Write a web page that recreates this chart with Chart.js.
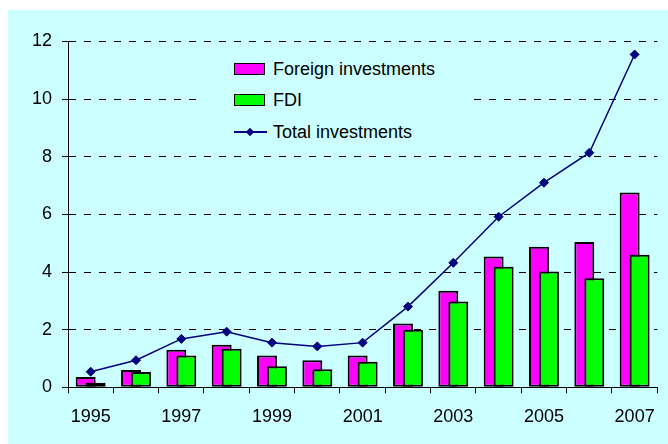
<!DOCTYPE html>
<html>
<head>
<meta charset="utf-8">
<script src="https://cdn.jsdelivr.net/npm/chart.js@4"></script>
<style>
  html, body { margin: 0; padding: 0; background: #ffffff; width: 668px; height: 444px; overflow: hidden; }
  #wrap { position: absolute; left: 8px; top: 10px; width: 660px; height: 434px; background: #CCFFFF; }
  #legend { position: absolute; left: 200px; top: 52px; width: 267px; height: 100px; background: #CCFFFF;
            font-family: "Liberation Sans", Arial, sans-serif; font-size: 18px; color: #000; }
  .item { position: absolute; left: 34px; height: 22px; line-height: 22px; white-space: nowrap; }
  .item .sw { position: absolute; left: 0; top: 5px; width: 29px; height: 10px; border: 1px solid #000; }
  .item .ln { position: absolute; left: 0; top: 10px; width: 33px; height: 1.5px; background: #000080; }
  .item .dm { position: absolute; left: 12.5px; top: 7.5px; width: 6px; height: 6px; background: #000080; transform: rotate(45deg); }
  .item .tx { position: absolute; left: 39px; top: 0; }
</style>
</head>
<body>
<div id="wrap"><canvas id="c"></canvas></div>
<div id="legend">
  <div class="item" style="top:6px"><span class="sw" style="background:#FF00FF"></span><span class="tx">Foreign investments</span></div>
  <div class="item" style="top:37px"><span class="sw" style="background:#00FF00"></span><span class="tx">FDI</span></div>
  <div class="item" style="top:69px"><span class="ln"></span><span class="dm"></span><span class="tx">Total investments</span></div>
</div>
<script>
const years = ['1995','1996','1997','1998','1999','2000','2001','2002','2003','2004','2005','2006','2007'];
const foreignInvestments = [0.36, 0.60, 1.30, 1.48, 1.10, 0.94, 1.10, 2.21, 3.35, 4.54, 4.88, 5.04, 6.76];
const fdi = [0.16, 0.53, 1.10, 1.34, 0.73, 0.63, 0.89, 2.00, 2.98, 4.18, 4.02, 3.78, 4.60];
const totalInvestments = [0.54, 0.94, 1.68, 1.93, 1.55, 1.42, 1.55, 2.80, 4.32, 5.92, 7.10, 8.14, 11.55];
const yTicks = [0, 2, 4, 6, 8, 10, 12];

Chart.defaults.font.family = '"Liberation Sans", Arial, sans-serif';
Chart.defaults.font.size = 18;
Chart.defaults.color = '#000';

const drawOrder = {
  id: 'drawOrder',
  beforeDatasetsDraw(chart) {
    const ctx = chart.ctx;
    [0, 1, 2].forEach(i => {
      const meta = chart.getDatasetMeta(i);
      if (!meta.visible) return;
      ctx.save();
      meta.controller.draw();
      ctx.restore();
    });
    return false;
  }
};

new Chart(document.getElementById('c'), {
  type: 'bar',
  data: {
    labels: years,
    datasets: [
      { label: 'Foreign investments', data: foreignInvestments, backgroundColor: '#FF00FF',
        borderColor: '#000000', borderWidth: 2, borderSkipped: false,
        categoryPercentage: 0.44, barPercentage: 2.0 },
      { label: 'FDI', data: fdi, backgroundColor: '#00FF00',
        borderColor: '#000000', borderWidth: 2, borderSkipped: false,
        categoryPercentage: 0.44, barPercentage: 2.0 },
      { type: 'line', label: 'Total investments', data: totalInvestments, borderColor: '#000080',
        backgroundColor: '#000080', borderWidth: 1.5, pointStyle: 'rectRot', pointRadius: 4.5,
        pointBorderWidth: 1, pointBackgroundColor: '#000080', pointBorderColor: '#000080', tension: 0, fill: false }
    ]
  },
  options: {
    responsive: true,
    maintainAspectRatio: false,
    animation: false,
    events: [],
    layout: { padding: { top: 31.5, right: 9, left: 0, bottom: 0 } },
    plugins: { legend: { display: false }, tooltip: { enabled: false }, title: { display: false } },
    scales: {
      x: {
        grid: { display: true, drawOnChartArea: false, drawTicks: true, tickLength: 6, color: '#000', offset: true },
        border: { display: true, color: '#000', width: 1 },
        ticks: { autoSkip: false, maxRotation: 0, padding: 13,
                 callback: function(v, i) { return i % 2 === 0 ? years[i] : ''; } },
        afterFit(scale) { scale.height = 56.7; }
      },
      y: {
        min: 0, max: 12,
        afterBuildTicks(scale) { scale.ticks = yTicks.map(v => ({ value: v })); },
        grid: { color: '#000', lineWidth: 1, tickLength: 6, tickBorderDash: [] },
        border: { display: true, color: '#000', width: 1, dash: [7, 8] },
        ticks: { padding: 10 },
        afterFit(scale) { scale.width = 60; }
      }
    }
  },
  plugins: [drawOrder]
});
</script>
</body>
</html>
